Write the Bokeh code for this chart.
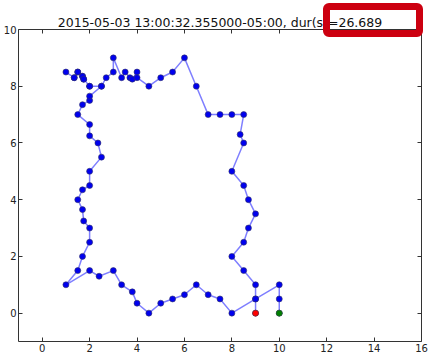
from bokeh.plotting import figure
from bokeh.models import Range1d, LinearAxis, FixedTicker, InlineStyleSheet
from bokeh.embed import file_html
from bokeh.resources import INLINE

# ---- data ----
track_x = [10, 10, 10, 9, 8, 7.5, 7, 6.5, 6, 5.5, 5, 4.5, 4, 3.8, 3.35, 3, 2.4, 2,
           1, 1.5, 1.7, 2, 2, 1.75, 1.7, 1.5, 1.7, 2, 2, 2.5, 2.35, 2, 2, 1.5, 1.7,
           2, 2, 2.5, 2, 1.75, 1.7, 1.5, 1.35, 1, 1.35, 1.5, 1.7, 1.75, 2, 2.5,
           2.7, 3, 3, 3.35, 3.5, 3.7, 3.8, 4, 4, 4.5, 5, 5.5, 6, 6.5, 7, 7.5, 8,
           8.5, 8.35, 8.5, 8, 8.5, 8.7, 9, 8.7, 8.5, 8, 8.5, 9, 9, 9]
track_y = [0, 0.5, 1, 0.5, 0, 0.5, 0.65, 1, 0.65, 0.5, 0.35, 0, 0.35, 0.75, 1, 1.5,
           1.3, 1.5, 1, 1.5, 2, 2.5, 3, 3.25, 3.65, 4, 4.35, 4.5, 5, 5.5, 6, 6.25,
           6.65, 7, 7.35, 7.5, 7.65, 8, 8, 8.25, 8.35, 8.5, 8.3, 8.5, 8.3, 8.5,
           8.35, 8.25, 8, 8, 8.3, 8.5, 9, 8.3, 8.5, 8.3, 8.25, 8.5, 8.3, 8, 8.3,
           8.5, 9, 8, 7, 7, 7, 7, 6.3, 6, 5, 4.5, 4, 3.5, 3, 2.5, 2, 1.5, 1, 0.5, 0]
title_text = "2015-05-03 13:00:32.355000-05:00, dur(s)=26.689"
x_ticks = [0, 2, 4, 6, 8, 10, 12, 14, 16]
y_ticks = [0, 2, 4, 6, 8, 10]

# red highlight frame drawn over the end of the title (pure CSS decoration)
highlight_css = InlineStyleSheet(css="""
:host { position: relative; }
:host::after {
  content: "";
  position: absolute;
  left: 323px; top: 3px; width: 100px; height: 34px;
  box-sizing: border-box;
  border: 7px solid #cc0010;
  border-radius: 6px;
  pointer-events: none;
  z-index: 100;
}
""")

W, H = 429, 354
p = figure(width=W, height=H, output_backend="svg", toolbar_location=None,
           x_range=Range1d(-1, 16), y_range=Range1d(-1, 10),
           min_border_left=10, min_border_right=8, min_border_top=29,
           min_border_bottom=0, background_fill_color="white",
           border_fill_color="white", stylesheets=[highlight_css])
p.grid.visible = False
p.outline_line_color = "#333333"
p.outline_line_width = 1

p.title.text = title_text
p.title.align = "center"
p.title.text_font = "DejaVu Sans"
p.title.text_font_size = "12.5px"
p.title.text_font_style = "normal"
p.title.text_color = "#111111"
p.title.standoff = 0

FONT = "DejaVu Sans"
def style_axis(ax, labels=True):
    ax.axis_line_color = None
    ax.major_tick_in = 4
    ax.major_tick_out = 0
    ax.major_tick_line_color = "#333333"
    ax.minor_tick_line_color = None
    ax.major_label_text_font = FONT
    ax.axis_label_standoff = 0
    if labels:
        ax.major_label_text_font_size = "10px"
        ax.major_label_text_color = "#222222"
        ax.major_label_standoff = 2
    else:
        ax.major_label_text_font_size = "1px"
        ax.major_label_text_color = None
        ax.major_label_standoff = 0

p.xaxis.ticker = FixedTicker(ticks=x_ticks)
p.yaxis.ticker = FixedTicker(ticks=y_ticks)
style_axis(p.xaxis[0])
style_axis(p.yaxis[0])
top_ax = LinearAxis(ticker=FixedTicker(ticks=x_ticks))
right_ax = LinearAxis(ticker=FixedTicker(ticks=y_ticks))
style_axis(top_ax, labels=False)
style_axis(right_ax, labels=False)
p.add_layout(top_ax, "above")
p.add_layout(right_ax, "right")

p.line(track_x, track_y, line_color="#0000ff", line_alpha=0.5, line_width=1.5)
p.scatter(track_x, track_y, size=6, fill_color="#0000ee", line_color="#333366",
          line_width=0.6)
p.scatter([track_x[-1]], [track_y[-1]], size=6, fill_color="#ff0000",
          line_color="#663333", line_width=0.6)
p.scatter([track_x[0]], [track_y[0]], size=6, fill_color="#008000",
          line_color="#335533", line_width=0.6)

open("out.html", "w").write(file_html(p, INLINE))
